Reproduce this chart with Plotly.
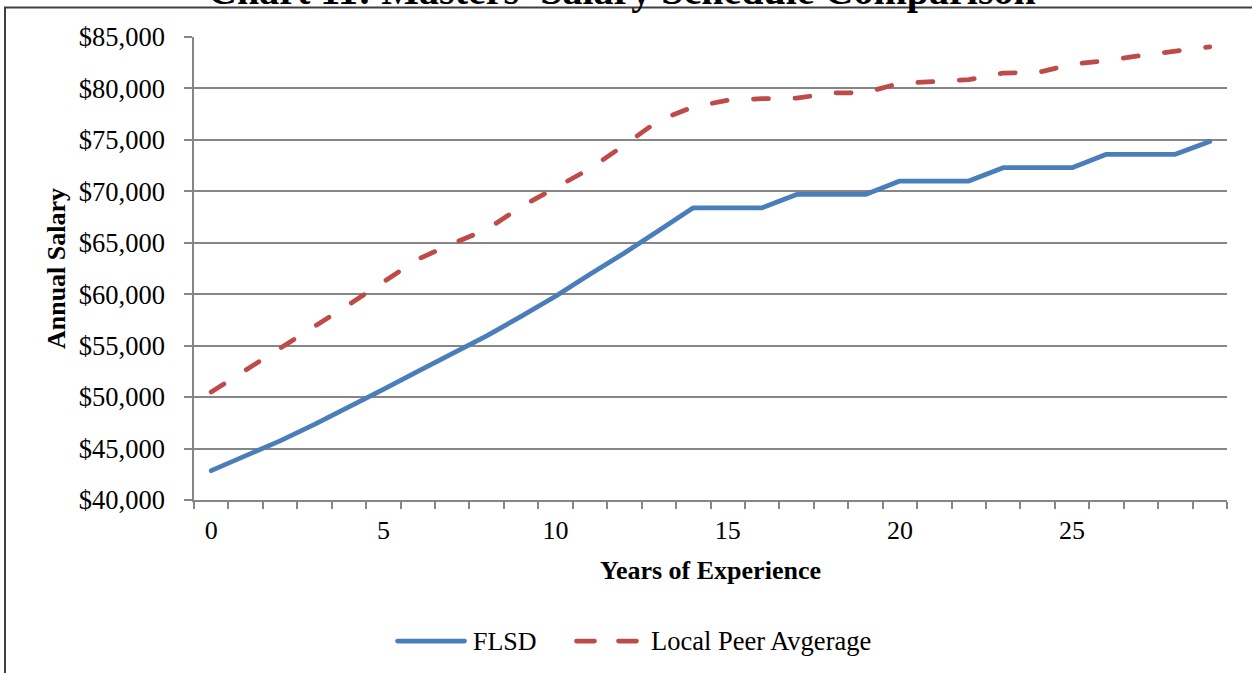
import plotly.graph_objects as go

# Salary schedule data by years of experience
years = list(range(30))
flsd = [42850, 44250, 45750, 47350, 49000, 50750, 52500, 54200, 55950, 57850,
        59800, 61950, 64000, 66200, 68400, 68400, 68400, 69700, 69700, 69700,
        71000, 71000, 71000, 72300, 72300, 72300, 73600, 73600, 73600, 74850]
peer = [50500, 52600, 54700, 56900, 59000, 61200, 63400, 64900, 66300, 68500,
        70300, 72200, 74500, 76900, 78200, 78850, 79000, 79050, 79550, 79600,
        80500, 80700, 80850, 81500, 81550, 82350, 82700, 83200, 83650, 84050]
series_names = ["FLSD", "Local Peer Avgerage"]
x_labels = [0, 5, 10, 15, 20, 25]
y_min, y_max, y_step = 40000, 85000, 5000

BLUE = "#4A7EBB"
RED = "#BE4B48"
GRID = "#868686"
FONT = "Liberation Serif"

W, H = 1252, 673
L, R, T, B = 194, 25, 37, 173
pw, ph = W - L - R, H - T - B


def px_x(p):
    return (p - L) / pw


def px_y(p):
    return (H - B - p) / ph


fig = go.Figure()
fig.add_trace(go.Scatter(x=years, y=flsd, mode="lines", name=series_names[0],
                         line=dict(color=BLUE, width=4.75), showlegend=False))
fig.add_trace(go.Scatter(x=years, y=peer, mode="lines", name=series_names[1],
                         line=dict(color=RED, width=4.75, dash="15px,26.5px"),
                         showlegend=False))

fig.update_layout(
    width=W, height=H, autosize=False,
    margin=dict(l=L, r=R, t=T, b=B),
    paper_bgcolor="white", plot_bgcolor="white",
    font=dict(family=FONT, size=26, color="black"),
)

fig.update_xaxes(
    range=[years[0] - 0.5, years[-1] + 0.5],
    tickvals=x_labels, ticks="", ticklabelstandoff=6,
    showgrid=False, zeroline=False,
    showline=True, linecolor=GRID, linewidth=1.6,
    minor=dict(tickvals=[y - 0.5 for y in years] + [years[-1] + 0.5],
               ticks="outside", ticklen=7, tickcolor=GRID, tickwidth=1.6,
               showgrid=False),
    tickfont=dict(family=FONT, size=26),
    title=dict(text="Years of Experience", standoff=17,
               font=dict(family=FONT, size=26, weight="bold")),
    automargin=False,
)
fig.update_yaxes(
    range=[y_min, y_max], tick0=y_min, dtick=y_step, tickformat="$,.0f",
    ticks="outside", ticklen=8, tickcolor=GRID, tickwidth=1.6,
    ticklabelstandoff=14,
    showgrid=True, gridcolor=GRID, gridwidth=1.6, zeroline=False,
    showline=True, linecolor=GRID, linewidth=1.6,
    tickfont=dict(family=FONT, size=26.5),
    title=dict(text="Annual Salary", standoff=6,
               font=dict(family=FONT, size=26, weight="bold")),
    automargin=False,
)

# Chart-area frame
fig.add_shape(type="rect", xref="paper", yref="paper",
              x0=px_x(5), x1=px_x(W + 20), y0=px_y(H + 20), y1=px_y(7.5),
              line=dict(color="#404040", width=2), fillcolor="rgba(0,0,0,0)",
              layer="below")

# Title
fig.add_annotation(text="Chart 11: Masters' Salary Schedule Comparison",
                   xref="paper", yref="paper", x=px_x(622), y=px_y(14.5),
                   xanchor="center", yanchor="bottom", showarrow=False,
                   font=dict(family=FONT, size=40, weight="bold", color="black"))

# Legend
leg_y = px_y(641)
fig.add_shape(type="line", xref="paper", yref="paper",
              x0=px_x(397.5), x1=px_x(464.5), y0=leg_y, y1=leg_y,
              line=dict(color=BLUE, width=4.75))
fig.add_shape(type="line", xref="paper", yref="paper",
              x0=px_x(576.5), x1=px_x(640), y0=leg_y, y1=leg_y,
              line=dict(color=RED, width=4.75, dash="18px,24px"))
fig.add_annotation(text=series_names[0], xref="paper", yref="paper",
                   x=px_x(471), y=leg_y, xanchor="left", yanchor="middle",
                   showarrow=False, font=dict(family=FONT, size=26))
fig.add_annotation(text=series_names[1], xref="paper", yref="paper",
                   x=px_x(649), y=leg_y, xanchor="left", yanchor="middle",
                   showarrow=False, font=dict(family=FONT, size=26.5))

round_caps = """
var gd = document.getElementById('{plot_id}');
function roundCaps() {
  gd.querySelectorAll('.scatterlayer .js-line, .layer-above path, .layer-below path').forEach(function (p) {
    var s = p.style.stroke || '';
    if (p.closest('.scatterlayer') || (s.indexOf('74, 126') >= 0 || s.indexOf('190, 75') >= 0)) {
      p.style.strokeLinecap = 'round';
      p.style.strokeLinejoin = 'round';
    }
  });
}
roundCaps();
gd.on('plotly_afterplot', roundCaps);
setTimeout(roundCaps, 50);
"""

fig.write_html("out.html", post_script=round_caps)
